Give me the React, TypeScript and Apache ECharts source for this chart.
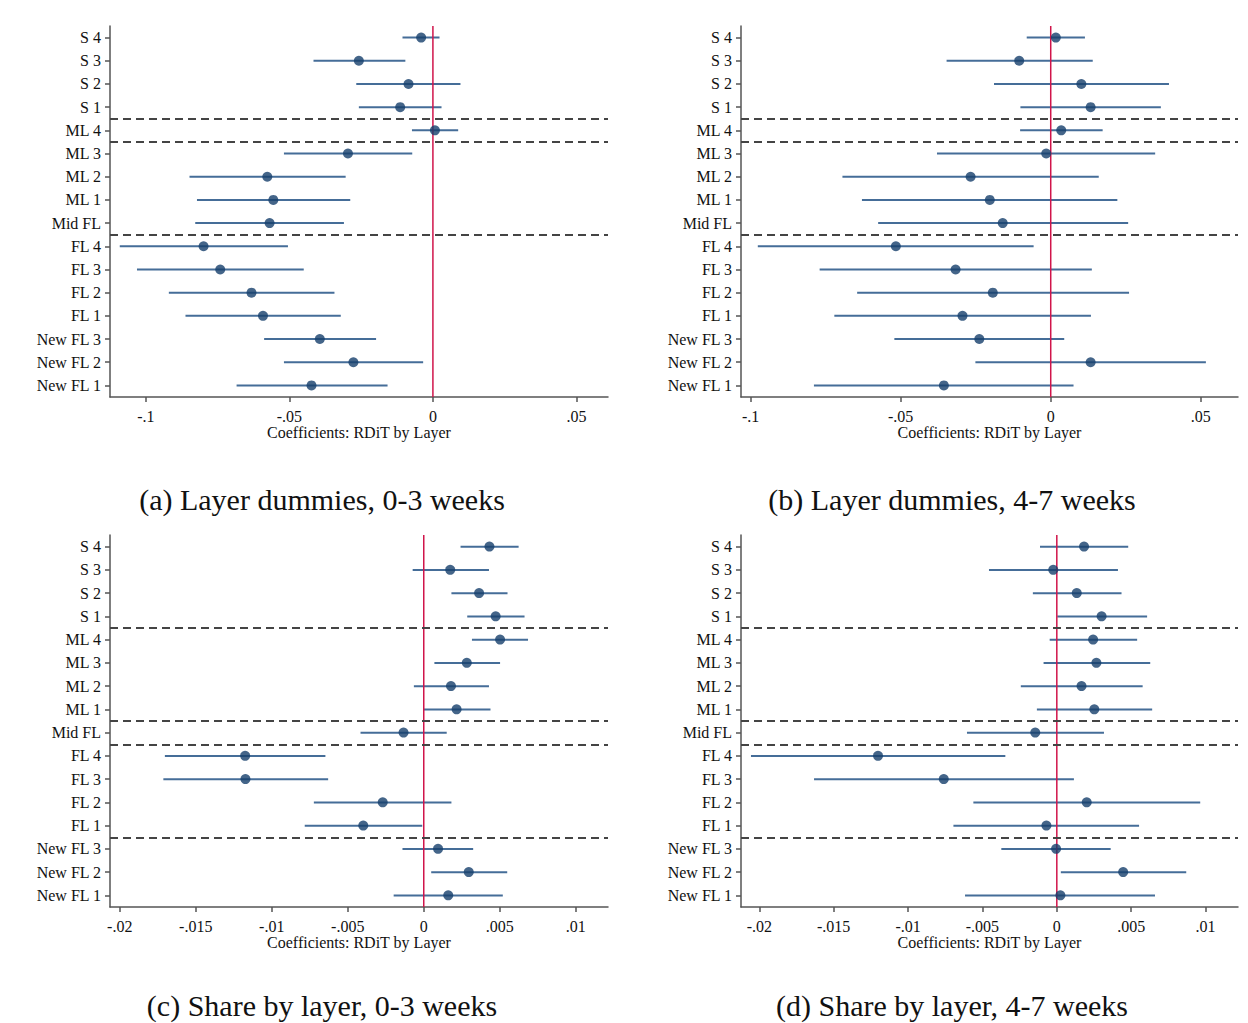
import React, { useEffect, useRef } from "react";
import * as echarts from "echarts";

const categories = ["S 4", "S 3", "S 2", "S 1", "ML 4", "ML 3", "ML 2", "ML 1", "Mid FL", "FL 4", "FL 3", "FL 2", "FL 1", "New FL 3", "New FL 2", "New FL 1"];

// Panel (a) Layer dummies, 0-3 weeks
const estA = [-0.0041, -0.0258, -0.0085, -0.0114, 0.0007, -0.0296, -0.0577, -0.0556, -0.0569, -0.0799, -0.0741, -0.0632, -0.0592, -0.0394, -0.0277, -0.0423];
const loA = [-0.0106, -0.0416, -0.0267, -0.0258, -0.0073, -0.0519, -0.0848, -0.0822, -0.0828, -0.1091, -0.1031, -0.092, -0.0862, -0.0588, -0.0519, -0.0684];
const hiA = [0.0023, -0.0096, 0.0096, 0.003, 0.0088, -0.0072, -0.0304, -0.0288, -0.031, -0.0505, -0.045, -0.0343, -0.0321, -0.0198, -0.0034, -0.0158];

// Panel (b) Layer dummies, 4-7 weeks
const estB = [0.0017, -0.0105, 0.0102, 0.0133, 0.0035, -0.0015, -0.0267, -0.0203, -0.016, -0.0516, -0.0317, -0.0193, -0.0294, -0.0238, 0.0133, -0.0356];
const loB = [-0.008, -0.0347, -0.0189, -0.0101, -0.0102, -0.0379, -0.0694, -0.0629, -0.0575, -0.0976, -0.077, -0.0645, -0.0721, -0.0521, -0.0251, -0.0789];
const hiB = [0.0114, 0.014, 0.0394, 0.0367, 0.0173, 0.0348, 0.016, 0.0222, 0.0258, -0.0057, 0.0137, 0.0261, 0.0134, 0.0045, 0.0517, 0.0076];

// Panel (c) Share by layer, 0-3 weeks
const estC = [0.00432, 0.00174, 0.00364, 0.00473, 0.00502, 0.00283, 0.00179, 0.00216, -0.00133, -0.01175, -0.01173, -0.0027, -0.00398, 0.00094, 0.00296, 0.00161];
const loC = [0.00242, -0.00073, 0.00182, 0.00286, 0.00317, 0.0007, -0.00065, -0.00005, -0.00416, -0.01703, -0.01713, -0.00723, -0.00783, -0.0014, 0.00049, -0.00198];
const hiC = [0.00624, 0.00429, 0.00551, 0.00663, 0.00686, 0.00502, 0.00429, 0.00439, 0.00151, -0.00647, -0.00629, 0.00182, -0.0001, 0.00325, 0.00549, 0.0052];

// Panel (d) Share by layer, 4-7 weeks
const estD = [0.00183, -0.00024, 0.00134, 0.00301, 0.00244, 0.00266, 0.00166, 0.00252, -0.00145, -0.01202, -0.0076, 0.00201, -0.0007, -0.00005, 0.00446, 0.00024];
const loD = [-0.00113, -0.00456, -0.00161, 0.00003, -0.00048, -0.00089, -0.00242, -0.00134, -0.00604, -0.02056, -0.01632, -0.00561, -0.00695, -0.00373, 0.00027, -0.00617];
const hiD = [0.0048, 0.00411, 0.00435, 0.00607, 0.0054, 0.00628, 0.00577, 0.00641, 0.00317, -0.00346, 0.00115, 0.00964, 0.00553, 0.00362, 0.0087, 0.0066];

const ticksAB = [-0.1, -0.05, 0, 0.05];
const ticksCD = [-0.02, -0.015, -0.01, -0.005, 0, 0.005, 0.01];
const rangeA = [-0.1125, 0.061];
const rangeB = [-0.1032, 0.0624];
const rangeC = [-0.02064, 0.01212];
const rangeD = [-0.02123, 0.01218];
const sepAB = [3.5, 4.5, 8.5];
const sepCD = [3.5, 7.5, 8.5, 12.5];
const axisName = "Coefficients: RDiT by Layer";
const captions = ["(a) Layer dummies, 0-3 weeks", "(b) Layer dummies, 4-7 weeks", "(c) Share by layer, 0-3 weeks", "(d) Share by layer, 4-7 weeks"];

const SERIF = "'Liberation Serif', 'Times New Roman', serif";

const panels = [
  { est: estA, lo: loA, hi: hiA, ticks: ticksAB, range: rangeA, sep: sepAB, left: 110, top: 26, width: 498, height: 371, cap: captions[0], capX: 322, capY: 499 },
  { est: estB, lo: loB, hi: hiB, ticks: ticksAB, range: rangeB, sep: sepAB, left: 741, top: 26, width: 497, height: 371, cap: captions[1], capX: 952, capY: 499 },
  { est: estC, lo: loC, hi: hiC, ticks: ticksCD, range: rangeC, sep: sepCD, left: 110, top: 535, width: 498, height: 372, cap: captions[2], capX: 322, capY: 1005 },
  { est: estD, lo: loD, hi: hiD, ticks: ticksCD, range: rangeD, sep: sepCD, left: 741, top: 535, width: 497, height: 372, cap: captions[3], capX: 952, capY: 1005 },
];

function fmtTick(v: number): string {
  let s = String(+Number(v).toFixed(4));
  s = s.replace(/^(-?)0\./, "$1.");
  return s;
}

export default function App() {
  const ref = useRef<HTMLDivElement>(null);
  useEffect(() => {
    if (!ref.current) return;
    const chart = echarts.init(ref.current, undefined, { renderer: "svg" });
    const axisColor = "#555";
    const grid = panels.map((p) => ({ left: p.left, top: p.top, width: p.width, height: p.height, outerBoundsMode: "none" }));
    const xAxis = panels.map((p, i) => ({
      type: "value",
      gridIndex: i,
      min: p.range[0],
      max: p.range[1],
      name: axisName,
      nameLocation: "middle",
      nameGap: 27,
      nameTextStyle: { fontFamily: SERIF, fontSize: 16, color: "#111" },
      axisLine: { show: true, onZero: false, lineStyle: { color: axisColor, width: 1.5 } },
      axisTick: { show: true, length: 5, customValues: p.ticks, lineStyle: { color: axisColor, width: 1.5 } },
      axisLabel: { customValues: p.ticks, formatter: (v: number) => fmtTick(v), margin: 11, fontFamily: SERIF, fontSize: 16, color: "#111", showMinLabel: true, showMaxLabel: true },
      splitLine: { show: false },
    }));
    const yAxis: any[] = [];
    panels.forEach((p, i) => {
      yAxis.push({
        type: "category",
        gridIndex: i,
        data: categories,
        inverse: true,
        boundaryGap: true,
        axisLine: { show: true, onZero: false, lineStyle: { color: axisColor, width: 1.5 } },
        axisTick: { show: true, length: 5, alignWithLabel: true, lineStyle: { color: axisColor, width: 1.5 } },
        axisLabel: { margin: 9, fontFamily: SERIF, fontSize: 16, color: "#111", interval: 0 },
        splitLine: { show: false },
      });
      yAxis.push({
        type: "value",
        gridIndex: i,
        min: -0.5,
        max: categories.length - 0.5,
        inverse: true,
        show: false,
        splitLine: { show: false },
      });
    });
    const series: any[] = [];
    panels.forEach((p, i) => {
      series.push({
        type: "custom",
        xAxisIndex: i,
        yAxisIndex: 2 * i,
        z: 2,
        encode: { x: [0, 1], y: 2 },
        data: p.lo.map((lo, k) => [lo, p.hi[k], k]),
        renderItem: (params: any, api: any) => {
          const y = api.value(2);
          const a = api.coord([api.value(0), y]);
          const b = api.coord([api.value(1), y]);
          return {
            type: "line",
            shape: { x1: a[0], y1: a[1], x2: b[0], y2: b[1] },
            style: { stroke: "#456d98", lineWidth: 2 },
          };
        },
        silent: true,
      });
      series.push({
        type: "line",
        xAxisIndex: i,
        yAxisIndex: 2 * i + 1,
        z: 3,
        data: [[0, -0.5], [0, categories.length - 0.5]],
        symbol: "none",
        lineStyle: { color: "#d0144a", width: 1.5 },
        silent: true,
        markLine: {
          silent: true,
          symbol: "none",
          label: { show: false },
          lineStyle: { color: "#444", width: 2, type: [8, 5] },
          data: p.sep.map((s) => ({ yAxis: s })),
        },
      });
      series.push({
        type: "scatter",
        xAxisIndex: i,
        yAxisIndex: 2 * i,
        z: 4,
        symbol: "circle",
        symbolSize: 10,
        itemStyle: { color: "#153f6c" },
        data: p.est.map((v, k) => [v, k]),
        silent: true,
      });
    });
    const graphic = panels.map((p) => ({
      type: "text",
      x: p.capX,
      y: p.capY,
      style: { text: p.cap, fontFamily: SERIF, fontSize: 30, fill: "#111", align: "center", verticalAlign: "middle", textAlign: "center", textVerticalAlign: "middle" },
    }));
    chart.setOption({ animation: false, backgroundColor: "#fff", grid, xAxis, yAxis, series, graphic });
    return () => chart.dispose();
  }, []);
  return <div ref={ref} style={{ position: "fixed", left: 0, top: 0, width: 1248, height: 1023, background: "#fff" }} />;
}
